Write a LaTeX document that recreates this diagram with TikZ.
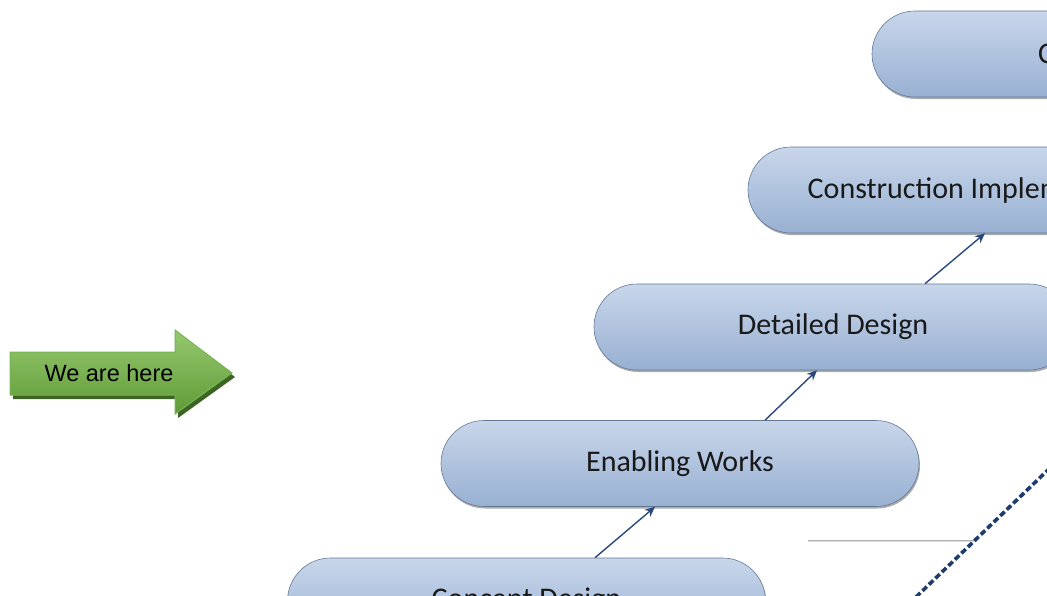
\documentclass[tikz,border=0pt]{standalone}
\usepackage{fontspec}
\newfontfamily\calibri{Carlito}
\newfontfamily\arialf{Liberation Sans}
\usetikzlibrary{shadows,arrows.meta}
\definecolor{boxtop}{RGB}{200,214,234}
\definecolor{boxbot}{RGB}{152,176,210}
\definecolor{boxline}{RGB}{100,120,150}
\definecolor{arrblue}{RGB}{40,72,125}
\definecolor{dashblue}{RGB}{30,60,110}
\definecolor{gtop}{RGB}{150,200,110}
\definecolor{gbot}{RGB}{95,155,55}
\definecolor{gline}{RGB}{120,180,85}
\definecolor{gshadow}{RGB}{60,100,35}
\tikzset{
  pill/.style={rectangle, rounded corners=43pt, minimum width=478pt, minimum height=86pt,
    top color=boxtop, bottom color=boxbot, draw=boxline, line width=0.6pt,
    font=\calibri\fontsize{30}{34}\selectfont, text=black!90,
    drop shadow={shadow xshift=1pt, shadow yshift=-2pt, fill=black!60, opacity=0.55}},
  conn/.style={draw=arrblue, line width=1.4pt, -{Stealth[length=10pt,width=9pt]}},
}
\begin{document}
\begin{tikzpicture}[x=1pt,y=-1pt]
\useasboundingbox (0,0) rectangle (1047,595);
\clip (0,0) rectangle (1047,595);
% boxes
\node[pill] (top) at (1111,54) {};
\node[inner sep=0pt, anchor=west, font=\calibri\fontsize{30}{34}\selectfont, text=black!90] (ctext) at (1038,54) {C};
\node[pill] (constr) at (987,190) {Construction Implementation};
\node[pill] (detail) at (833,327) {Detailed Design};
\node[pill] (enab) at (680,463.5) {Enabling Works};
\node[pill] (concept) at (526.5,601) {Concept Design};
% connectors
\draw[conn] ([xshift=68.5pt]concept.north) -- ([xshift=-25pt]enab.south);
\draw[conn] ([xshift=85pt]enab.north) -- ([xshift=-16pt]detail.south);
\draw[conn] ([xshift=92pt]detail.north) -- ([xshift=-2pt]constr.south);
% gray line
\coordinate (g1) at (808,541);
\coordinate (g2) at (975,541);
\draw[black!30, line width=2pt] (g1) -- (g2);
\draw[white!85!black, line width=0.6pt] (g1) -- (g2);
% dashed line
\coordinate (d1) at (916,597);
\coordinate (d2) at (1050,468);
\draw[dashblue, line width=3.6pt, dash pattern=on 6pt off 3pt] (d1) -- (d2);
% green arrow
\fill[gshadow] (13,356) -- (178,356) -- (178,334) -- (235,377) -- (178,418) -- (178,399) -- (13,399) -- cycle;
\shade[top color=gtop, bottom color=gbot, draw=gline, line width=1pt]
  (10,352) -- (175,352) -- (175,330) -- (232,373) -- (175,414) -- (175,395) -- (10,395) -- cycle;
\node[font=\arialf\fontsize{23.5}{27}\selectfont, text=black] (here) at (109,373) {We are here};
\end{tikzpicture}
\end{document}
